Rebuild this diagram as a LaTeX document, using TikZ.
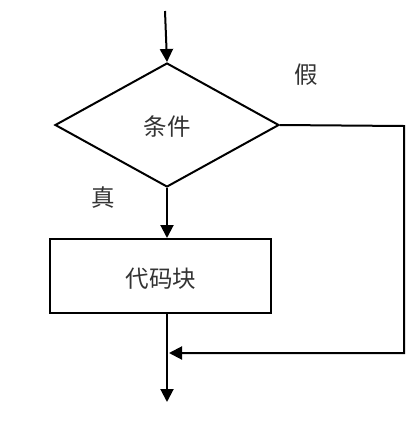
\documentclass[tikz,border=0pt]{standalone}
\usepackage{fontspec}
\newfontfamily\cjk{Noto Sans CJK SC}
\usetikzlibrary{arrows.meta,shapes.geometric}
\begin{document}
\begin{tikzpicture}[x=1pt,y=-1pt,
  line width=2pt,
  arr/.style={-{Triangle[length=13pt,width=13pt]}},
  lbl/.style={font=\cjk\fontsize{23.5pt}{23.5pt}\selectfont, text=black!80, inner sep=0pt},
  shapebox/.style={draw, line width=2pt, inner sep=0pt}]
\useasboundingbox (0,0) rectangle (420,440);
\coordinate (start) at (165,11);
\node[shapebox, diamond, minimum width=224pt, minimum height=124pt, aspect=1.8] (cond) at (167,125) {};
\node[lbl] at (167,127) {条件};
\node[shapebox, rectangle, minimum width=221pt, minimum height=74pt] (code) at (160.5,276) {};
\node[lbl] at (161,279) {代码块};
\node[lbl] (f) at (306,75) {假};
\node[lbl] (t) at (103,198) {真};
\coordinate (c1) at (404,126);
\coordinate (c2) at (404,353);
\coordinate (merge) at (167,353);
\coordinate (end) at (167,402);
\draw[arr] (start) -- (cond.north);
\draw[arr] (cond.south) -- (cond.south |- code.north);
\draw[arr] (cond.east) -- (c1) -- (c2) -- ([xshift=2pt]merge);
\draw[arr] (cond.south |- code.south) -- (end);
\end{tikzpicture}
\end{document}
